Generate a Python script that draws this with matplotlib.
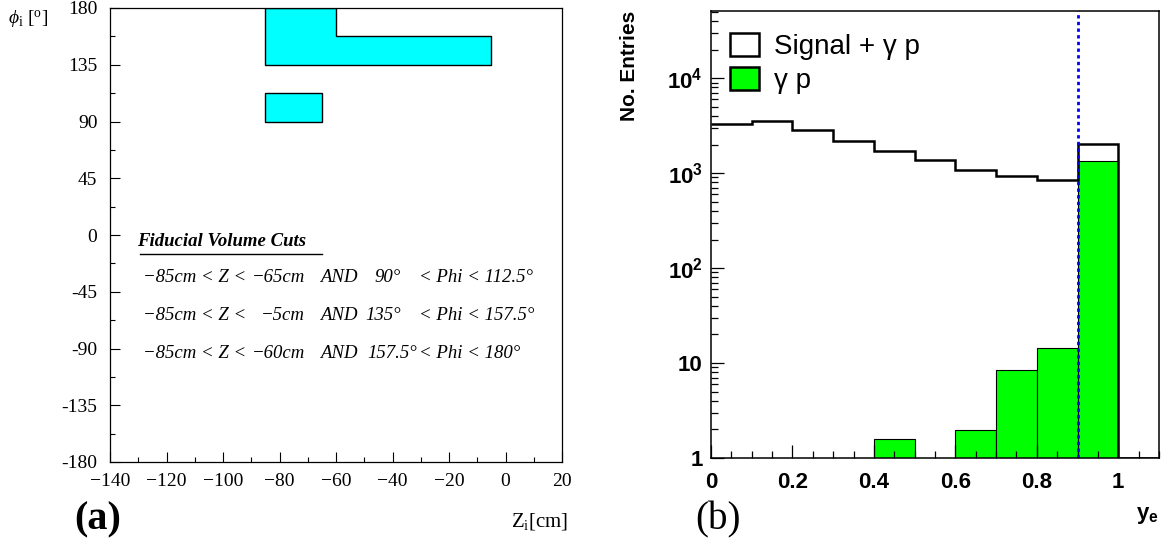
import matplotlib
matplotlib.use("Agg")
import matplotlib.pyplot as plt
from matplotlib.ticker import FixedLocator, MultipleLocator, FuncFormatter
from matplotlib.patches import Patch

plt.rcParams["mathtext.fontset"] = "custom"
plt.rcParams["mathtext.rm"] = "Liberation Serif"
plt.rcParams["mathtext.it"] = "Liberation Serif:italic"
plt.rcParams["mathtext.bf"] = "Liberation Sans:bold"
plt.rcParams["mathtext.sf"] = "Liberation Sans"

# ── data: panel (a) fiducial volume cuts ─────────────────────────────────────
z_lo = [-85, -85, -85]
z_hi = [-65, -5, -60]
phi_lo = [90, 135, 157.5]
phi_hi = [112.5, 157.5, 180]

cut_z = ["\u221285cm < Z < ", "\u221285cm < Z < ", "\u221285cm < Z < "]
cut_z_hi = ["\u221265cm", "\u22125cm", "\u221260cm"]
cut_phi_lo = ["90\u00b0", "135\u00b0", "157.5\u00b0"]
cut_phi_hi = ["< Phi < 112.5\u00b0", "< Phi < 157.5\u00b0", "< Phi < 180\u00b0"]

# ── data: panel (b) y_e distribution ────────────────────────────────────────
bin_edges = [0.0, 0.1, 0.2, 0.3, 0.4, 0.5, 0.6, 0.7, 0.8, 0.9, 1.0, 1.1]
signal_gp = [3300, 3530, 2840, 2170, 1730, 1370, 1070, 940, 845, 2030, 1]
gamma_p = [0, 0, 0, 0, 1.57, 0, 1.96, 8.4, 14.3, 1330, 0]
y_cut = 0.9

W, H = 1170, 546
fig = plt.figure(figsize=(W / 100, H / 100), dpi=100)


def fx(px):
    return px / W


def fy(py):
    return 1 - py / H


SERIF = "Liberation Serif"
SANS = "Liberation Sans"

# ── panel (a) ────────────────────────────────────────────────────────────────
ax_a = fig.add_axes([fx(110), fy(462), fx(452), 454 / H])
cyan = "#00FFFF"

# lower small box
ax_a.fill([z_lo[0], z_hi[0], z_hi[0], z_lo[0]],
          [phi_lo[0], phi_lo[0], phi_hi[0], phi_hi[0]],
          facecolor=cyan, edgecolor="black", lw=1.0)
# upper two boxes merged into one outline
ax_a.fill([z_lo[1], z_hi[1], z_hi[1], z_hi[2], z_hi[2], z_lo[1]],
          [phi_lo[1], phi_lo[1], phi_hi[1], phi_lo[2], phi_hi[2], phi_hi[2]],
          facecolor=cyan, edgecolor="black", lw=1.0)

ax_a.set_xlim(-140, 20)
ax_a.set_ylim(-180, 180)
ax_a.xaxis.set_major_locator(MultipleLocator(20))
ax_a.xaxis.set_minor_locator(MultipleLocator(10))
ax_a.yaxis.set_major_locator(MultipleLocator(45))
ax_a.yaxis.set_minor_locator(MultipleLocator(22.5))
ax_a.xaxis.set_major_formatter(FuncFormatter(lambda v, p: f"{v:.0f}".replace("-", "\u2212")))
ax_a.yaxis.set_major_formatter(FuncFormatter(lambda v, p: f"{v:.0f}"))
ax_a.tick_params(which="both", direction="in", top=False, right=False)
ax_a.tick_params(which="major", length=7.5, width=0.8)
ax_a.tick_params(which="minor", length=3.8, width=0.8)
ax_a.tick_params(axis="y", pad=9)
ax_a.tick_params(axis="x", pad=8)
for lbl in ax_a.get_xticklabels() + ax_a.get_yticklabels():
    lbl.set_fontfamily(SERIF)
    lbl.set_fontsize(14)
for sp in ax_a.spines.values():
    sp.set_linewidth(0.9)

fig.text(fx(8), fy(19), r"$\phi_{\rm i}$ [$^{\rm o}$]", fontsize=14,
         family=SERIF, ha="left", va="center")
fig.text(fx(568), fy(521), r"Z$_{\rm i}$[cm]", fontsize=15,
         family=SERIF, ha="right", va="center")
fig.text(fx(98), fy(520), "(a)", fontsize=29, family=SERIF,
         weight="bold", ha="center", va="center")

# cut summary
fig.text(fx(137), fy(242), "Fiducial Volume Cuts", fontsize=13.5, family=SERIF,
         style="italic", weight="bold", ha="left", va="center")
fig.add_artist(plt.Line2D([fx(140), fx(322)], [fy(254), fy(254)], color="black", lw=1.0))
row_y = [278, 316, 353]
for i, yy in enumerate(row_y):
    kw = dict(fontsize=13.5, family=SERIF, style="italic", va="center")
    fig.text(fx(143), fy(yy), cut_z[i], ha="left", **kw)
    fig.text(fx(305), fy(yy), cut_z_hi[i], ha="right", **kw)
    fig.text(fx(320), fy(yy), "AND", ha="left", **kw)
    if i < 2:
        fig.text(fx(401), fy(yy), cut_phi_lo[i], ha="right", **kw)
    else:
        fig.text(fx(367), fy(yy), cut_phi_lo[i], ha="left", **kw)
    fig.text(fx(419), fy(yy), cut_phi_hi[i], ha="left", **kw)

# ── panel (b) ────────────────────────────────────────────────────────────────
ax_b = fig.add_axes([fx(711), fy(458), fx(448), 447 / H])
green = "#00FF00"

ax_b.bar(bin_edges[:-1], gamma_p, width=0.1, align="edge", color=green,
         edgecolor="black", lw=0.8, log=True)
ax_b.stairs(signal_gp, bin_edges, color="black", lw=1.8, baseline=None)
ax_b.axvline(y_cut, color="#0000FF", lw=2.0, ls=(0, (1.2, 1.2)))

ax_b.set_yscale("log")
ax_b.set_xlim(0, 1.1)
ax_b.set_ylim(1, 5.1e4)

yt = [1, 10, 100, 1000, 10000]
ytl = ["1", "10", r"$\mathbf{10^{2}}$", r"$\mathbf{10^{3}}$", r"$\mathbf{10^{4}}$"]
ax_b.set_yticks(yt, ytl, fontsize=16, fontweight="bold", family=SANS)
ax_b.yaxis.set_minor_locator(FixedLocator(
    [m * 10 ** e for e in range(0, 5) for m in range(2, 10)]))
ax_b.yaxis.set_minor_formatter(FuncFormatter(lambda v, p: ""))
xt = [0, 0.2, 0.4, 0.6, 0.8, 1.0]
ax_b.set_xticks(xt, [f"{v:g}" for v in xt], fontsize=16, fontweight="bold", family=SANS)
ax_b.xaxis.set_minor_locator(MultipleLocator(0.05))
ax_b.tick_params(which="both", direction="in", top=False, right=False)
ax_b.tick_params(which="major", length=9.5, width=0.9)
ax_b.tick_params(which="minor", length=5, width=0.9)
ax_b.tick_params(axis="x", pad=10)
ax_b.tick_params(axis="y", pad=6)
for sp in ax_b.spines.values():
    sp.set_linewidth(1.1)

ax_b.text(-0.183, 1.0, "No. Entries", transform=ax_b.transAxes, rotation=90,
          ha="center", va="top", fontsize=15, fontweight="bold", family=SANS)
ax_b.text(1.0, -0.128, r"$\mathbf{y_{e}}$", transform=ax_b.transAxes,
          ha="right", va="center", fontsize=16, family=SANS)
fig.text(fx(718), fy(520), "(b)", fontsize=28, family=SERIF, ha="center", va="center")

handles = [Patch(facecolor="white", edgecolor="black", lw=1.8),
           Patch(facecolor=green, edgecolor="black", lw=1.8)]
ax_b.legend(handles, ["Signal + \u03b3 p", "\u03b3 p"], loc="upper left",
            bbox_to_anchor=(0.042, 0.95), frameon=False, borderpad=0,
            borderaxespad=0, handlelength=1.05, handleheight=0.87,
            handletextpad=0.55, labelspacing=0.26,
            prop={"family": SANS, "size": 20})

fig.savefig("out.png", dpi=100)
